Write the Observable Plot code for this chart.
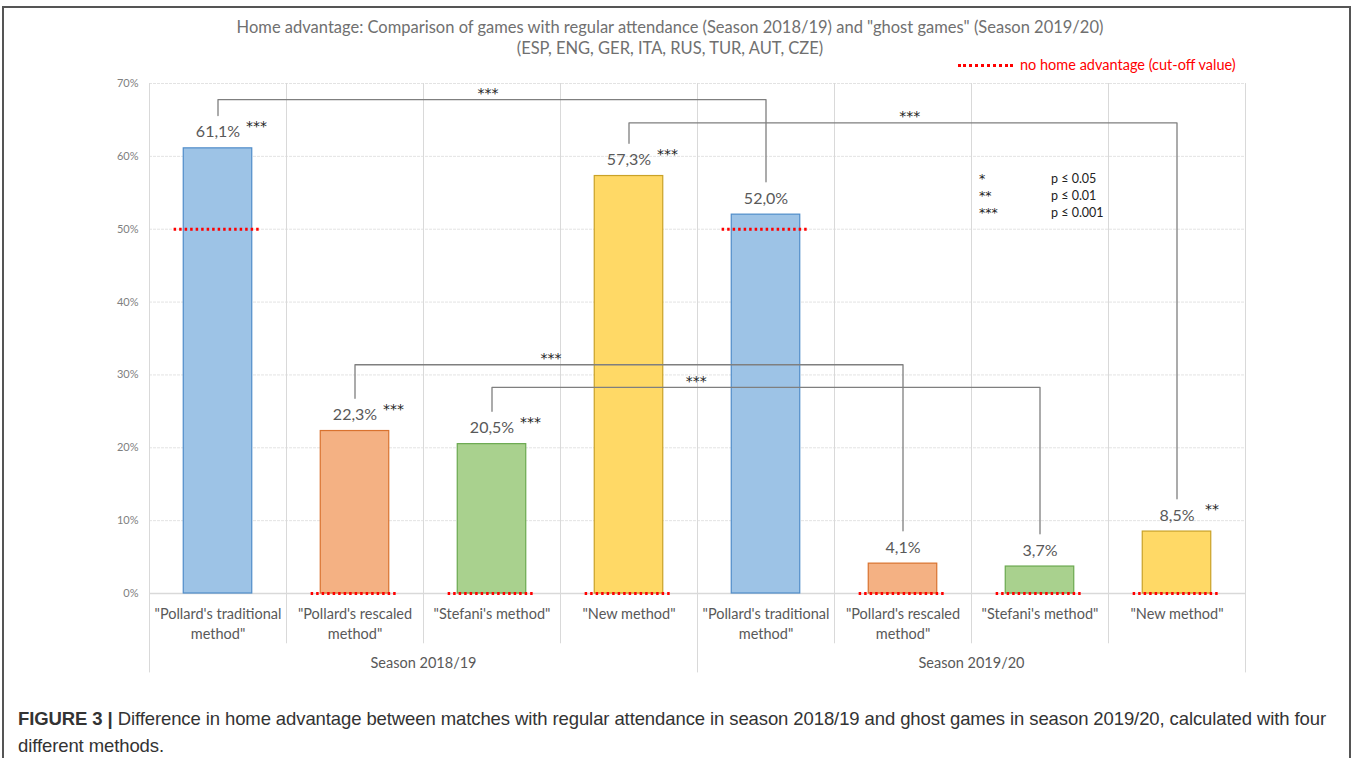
<!DOCTYPE html>
<html>
<head>
<meta charset="utf-8">
<script src="https://cdn.jsdelivr.net/npm/d3@7"></script>
<script src="https://cdn.jsdelivr.net/npm/@observablehq/plot@0.6"></script>
<style>
  html, body { margin: 0; padding: 0; background: #fff; }
  #page { position: relative; width: 1360px; height: 758px; overflow: hidden; }
  #frame { position: absolute; left: 2px; top: 6px; width: 1345px; height: 780px;
           border-left: 2px solid #555; border-top: 2px solid #555; border-right: 2px solid #555; }
  #chart { position: absolute; left: 0; top: 0; }
  .title { position: absolute; left: 0; width: 1340px; text-align: center; font-family: Lato, sans-serif;
           font-size: 16.5px; color: #707070; }
  #legend { position: absolute; left: 958px; top: 56px; font-family: Lato, sans-serif; font-size: 14.5px; color: #ff0000; white-space: nowrap; }
  #legend .swatch { display: inline-block; width: 55px; height: 0; border-top: 3px dotted #ff0000; vertical-align: middle; margin-right: 7px; position: relative; top: -1px; }
  #sig { position: absolute; left: 979px; top: 170px; font-family: Lato, sans-serif; font-size: 12.5px; color: #222; line-height: 17px; }
  #sig div span:first-child { display: inline-block; width: 72px; font-family: "DejaVu Sans", sans-serif; font-size: 12.5px; }
  .caption { position: absolute; left: 18px; white-space: nowrap; font-family: "Liberation Sans", Arial, sans-serif;
             font-size: 18.5px; line-height: 27px; color: #333; letter-spacing: -0.1px; }
</style>
</head>
<body>
<div id="page">
  <div id="frame"></div>
  <div id="chart"></div>
  <div class="title" style="top:17px">Home advantage: Comparison of games with regular attendance (Season 2018/19) and "ghost games" (Season 2019/20)</div>
  <div class="title" style="top:38px">(ESP, ENG, GER, ITA, RUS, TUR, AUT, CZE)</div>
  <div id="legend"><span class="swatch"></span>no home advantage (cut-off value)</div>
  <div id="sig"></div>
  <div class="caption" style="top:705px"><b>FIGURE 3 |</b> Difference in home advantage between matches with regular attendance in season 2018/19 and ghost games in season 2019/20, calculated with four</div>
  <div class="caption" style="top:732px">different methods.</div>
</div>
<script>
// ---- data ----
const seasons = ["Season 2018/19", "Season 2019/20"];
const methods = ["\"Pollard's traditional\nmethod\"", "\"Pollard's rescaled\nmethod\"", "\"Stefani's method\"", "\"New method\""];
const values2018 = [61.1, 22.3, 20.5, 57.3];
const values2019 = [52.0, 4.1, 3.7, 8.5];
const stars2018 = ["***", "***", "***", "***"];
const stars2019 = ["", "", "", "**"];
const cutoffs = [50, 0, 0, 0];
const yTicks = [0, 10, 20, 30, 40, 50, 60, 70];
// comparisons between bars (index in the 8 columns), bracket level (%), label
const compFrom = [0, 3, 1, 2];
const compTo = [4, 7, 5, 6];
const compLevel = [67.8, 64.6, 31.4, 28.3];
const compLabel = ["***", "***", "***", "***"];
const compLabelAt = [2.47, 5.55, 2.93, 3.99];
const sigSymbols = ["*", "**", "***"];
const sigText = ["p ≤ 0.05", "p ≤ 0.01", "p ≤ 0.001"];

// ---- styles ----
const fills = ["#9DC3E6", "#F4B183", "#A9D18E", "#FFD966"];
const strokes = ["#4F8CC9", "#D9722E", "#6AA84F", "#C9A227"];
const labelGray = "#595959";
const starFont = "DejaVu Sans, sans-serif";

// ---- build table ----
const rows = [];
seasons.forEach((s, si) => {
  const vals = si === 0 ? values2018 : values2019;
  const st = si === 0 ? stars2018 : stars2019;
  methods.forEach((m, mi) => {
    rows.push({ idx: si * 4 + mi, season: s, method: m, mi, value: vals[mi], stars: st[mi], cutoff: cutoffs[mi] });
  });
});
const fmt = v => d3.format(".1f")(v).replace(".", ",") + "%";
const legOffset = 4.5;
const brackets = [];
const bracketLabels = [];
compFrom.forEach((a, k) => {
  const b = compTo[k];
  const ra = rows[a], rb = rows[b];
  const id = k;
  brackets.push({ id, x: ra.idx + 0.5, y: ra.value + legOffset });
  brackets.push({ id, x: ra.idx + 0.5, y: compLevel[k] });
  brackets.push({ id, x: rb.idx + 0.5, y: compLevel[k] });
  brackets.push({ id, x: rb.idx + 0.5, y: rb.value + legOffset });
  bracketLabels.push({ x: compLabelAt[k], y: compLevel[k], label: compLabel[k] });
});
const boundaries = d3.range(0, 9).map(i => ({ x: i, outer: i % 4 === 0 }));

const chart = Plot.plot({
  width: 1360,
  height: 700,
  marginLeft: 149,
  marginRight: 115,
  marginTop: 83,
  marginBottom: 107,
  style: { fontFamily: "Lato, sans-serif", background: "transparent", overflow: "visible" },
  x: { domain: [0, 8], axis: null },
  y: { domain: [0, 70], axis: null },
  marks: [
    // horizontal grid
    Plot.ruleY(yTicks.filter(d => d > 0), { stroke: "#e3e3e3", strokeWidth: 1, strokeDasharray: "3,1" }),
    // vertical category separators
    Plot.ruleX(boundaries, { x: "x", y1: 70, y2: d => d.outer ? -10.9 : -6.9, stroke: "#d9d9d9", strokeWidth: 1 }),
    Plot.ruleY([0], { stroke: "#d9d9d9", strokeWidth: 1.5 }),
    Plot.axisY({ ticks: yTicks, tickSize: 0, tickPadding: 11, tickFormat: d => d + "%", fontSize: 11, color: "#808080", label: null }),
    // bars
    Plot.rectY(rows, { x1: d => d.idx + 0.25, x2: d => d.idx + 0.75, y: "value",
      fill: d => fills[d.mi], stroke: d => strokes[d.mi], strokeWidth: 1.2 }),
    // cut-off lines
    Plot.ruleY(rows, { x1: d => d.idx + 0.18, x2: d => d.idx + 0.82, y: "cutoff",
      stroke: "#ff0000", strokeWidth: 3, strokeDasharray: "2.5,3" }),
    // value labels
    Plot.text(rows, { x: d => d.idx + 0.5, y: "value", text: d => fmt(d.value), dy: -16, lineAnchor: "middle",
      fontSize: 16, fill: labelGray }),
    Plot.text(rows, { x: d => d.idx + 0.5, y: "value", text: "stars", dx: 28, dy: -22, textAnchor: "start", lineAnchor: "middle",
      fontSize: 14, fontFamily: starFont, fill: "#222" }),
    // brackets
    Plot.line(brackets, { x: "x", y: "y", z: "id", stroke: "#7f7f7f", strokeWidth: 1.3 }),
    Plot.text(bracketLabels, { x: "x", y: "y", text: "label", dy: -6, lineAnchor: "middle", fontSize: 14, fontFamily: starFont, fill: "#222" }),
    // category labels
    Plot.text(rows, { x: d => d.idx + 0.5, y: 0, text: "method", dy: 11, lineAnchor: "top", lineHeight: 1.38,
      fontSize: 14.5, fill: labelGray }),
    // season labels
    Plot.text(seasons, { x: (d, i) => i * 4 + 2, y: 0, text: d => d, dy: 70, lineAnchor: "middle", fontSize: 14.5, fill: labelGray })
  ]
});
document.getElementById("chart").appendChild(chart);

const sig = document.getElementById("sig");
sigSymbols.forEach((s, i) => {
  const div = document.createElement("div");
  div.innerHTML = `<span>${s}</span><span>${sigText[i]}</span>`;
  sig.appendChild(div);
});
</script>
</body>
</html>
